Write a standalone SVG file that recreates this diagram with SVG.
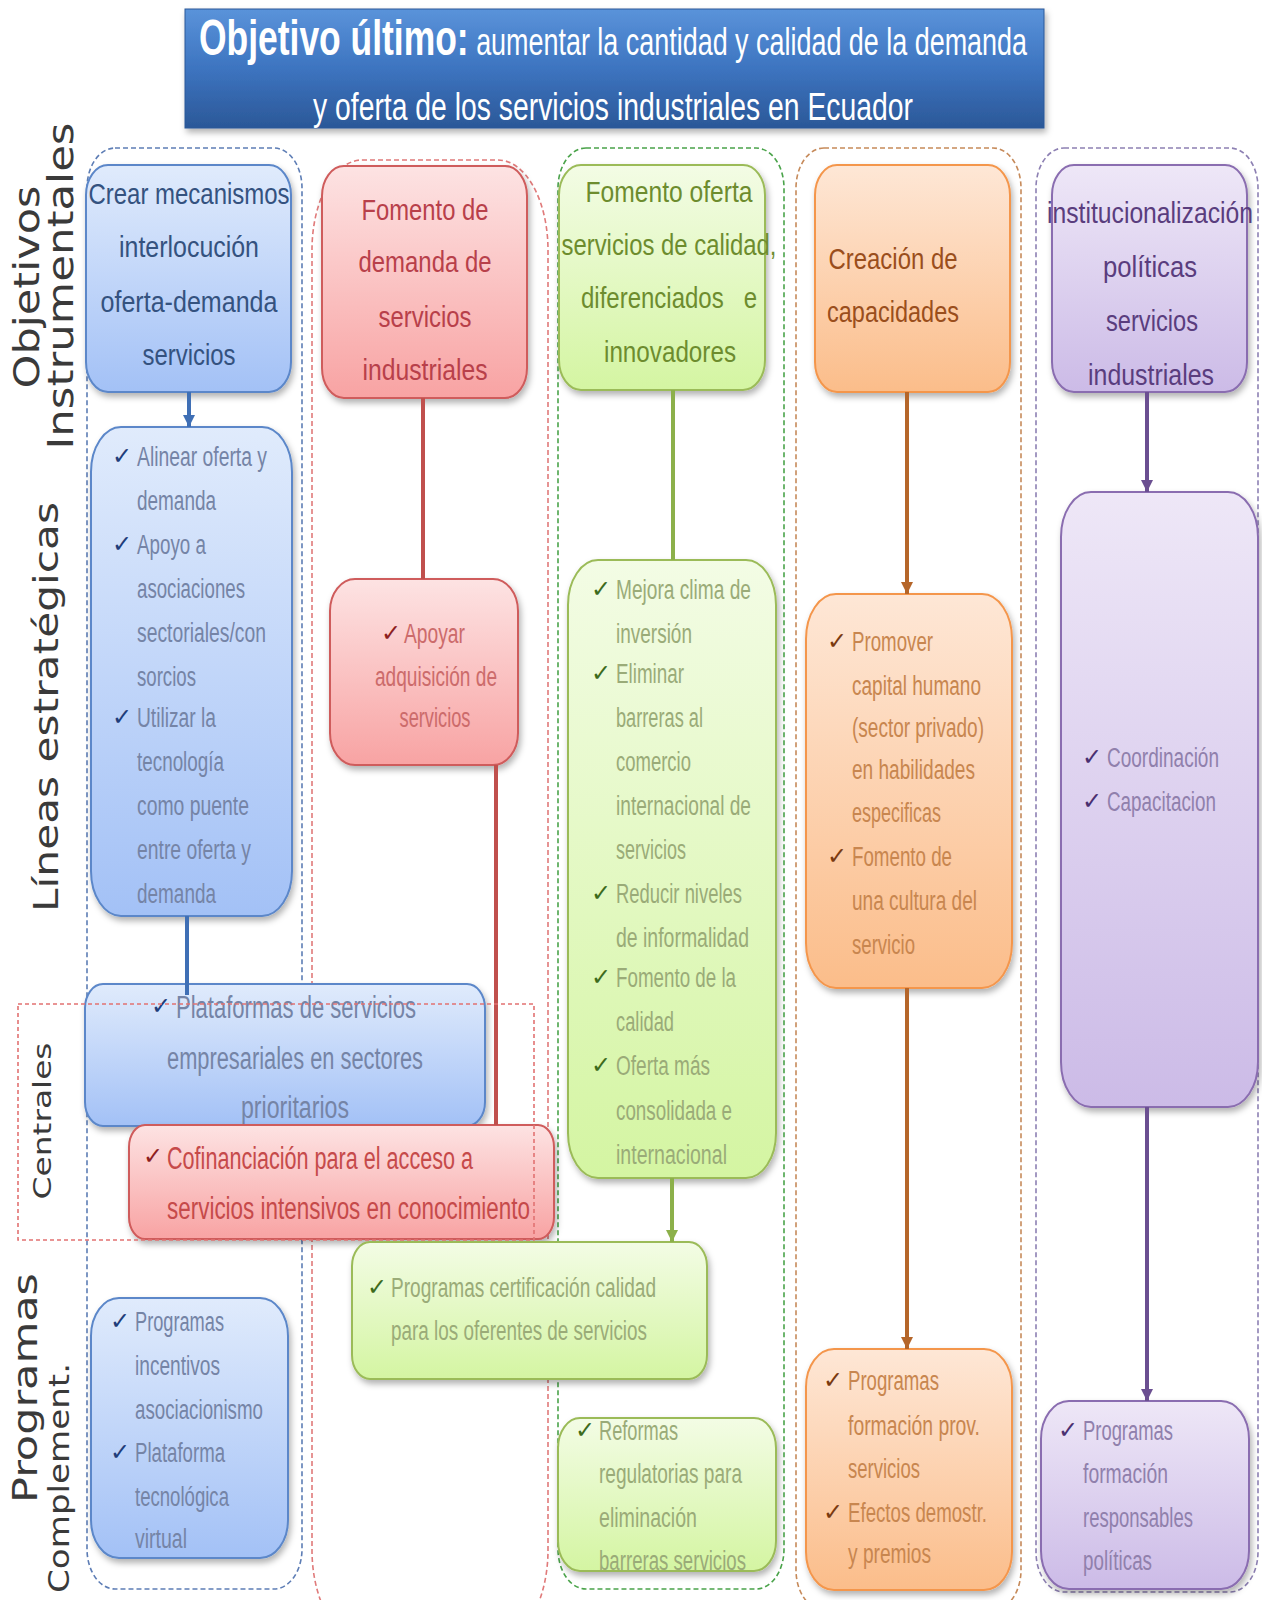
<svg xmlns="http://www.w3.org/2000/svg" width="1262" height="1600" viewBox="0 0 1262 1600">
<defs>
<style>
text{font-family:"Liberation Sans",Arial,sans-serif}
.h{font-size:30px;text-anchor:middle}
.b{font-size:27px}
.bl{font-size:31px}
.c{font-family:"DejaVu Sans",sans-serif;font-size:24px}
.m{text-anchor:middle}
.lab{font-family:"DejaVu Sans",Verdana,sans-serif;fill:#3a3a3a;text-anchor:middle}
.col{fill:none;stroke-width:1.6;stroke-dasharray:5 3}
.bx{stroke-width:2;filter:url(#sh)}
.con{fill:none;stroke-width:4}
.hB{fill:#34527f}.bB{fill:#7584a6}.cB{fill:#1f3d7a}
.hR{fill:#b8404a}.bR{fill:#cc6b6b}.cR{fill:#8e1f1f}
.hG{fill:#6d8c2e}.bG{fill:#9aab78}.cG{fill:#3d6b1c}
.hO{fill:#9a4e1c}.bO{fill:#c8864f}.cO{fill:#7a3a10}
.hP{fill:#5a3d7e}.bP{fill:#9080ac}.cP{fill:#4a2f70}
.fB{fill:url(#gB);stroke:#5b87c9}
.fR{fill:url(#gR);stroke:#cf5b5b}
.fG{fill:url(#gG);stroke:#9bbb59}
.fO{fill:url(#gO);stroke:#f4964c}
.fP{fill:url(#gP);stroke:#8a6db0}
</style>
<linearGradient id="gT" x1="0" y1="0" x2="0" y2="1"><stop offset="0" stop-color="#5a93da"/><stop offset="0.5" stop-color="#3d74c0"/><stop offset="1" stop-color="#2b5898"/></linearGradient>
<linearGradient id="gB" x1="0" y1="0" x2="0" y2="1"><stop offset="0" stop-color="#e0ebfc"/><stop offset="1" stop-color="#a3c1f6"/></linearGradient>
<linearGradient id="gR" x1="0" y1="0" x2="0" y2="1"><stop offset="0" stop-color="#fde3e3"/><stop offset="1" stop-color="#f8a3a3"/></linearGradient>
<linearGradient id="gG" x1="0" y1="0" x2="0" y2="1"><stop offset="0" stop-color="#f3fce5"/><stop offset="1" stop-color="#d4f5a2"/></linearGradient>
<linearGradient id="gO" x1="0" y1="0" x2="0" y2="1"><stop offset="0" stop-color="#fee7d6"/><stop offset="1" stop-color="#fbbd8a"/></linearGradient>
<linearGradient id="gP" x1="0" y1="0" x2="0" y2="1"><stop offset="0" stop-color="#eee7f7"/><stop offset="1" stop-color="#ccbbe7"/></linearGradient>
<filter id="sh" x="-10%" y="-10%" width="125%" height="125%"><feDropShadow dx="2" dy="4" stdDeviation="3" flood-color="#000" flood-opacity="0.3"/></filter>
<marker id="aB" markerUnits="userSpaceOnUse" markerWidth="12" markerHeight="12" viewBox="0 0 10 10" refX="10" refY="5" orient="auto"><path d="M0,0 L10,5 L0,10 z" fill="#3f6fb5"/></marker>
<marker id="aG" markerUnits="userSpaceOnUse" markerWidth="12" markerHeight="12" viewBox="0 0 10 10" refX="10" refY="5" orient="auto"><path d="M0,0 L10,5 L0,10 z" fill="#8cb04a"/></marker>
<marker id="aO" markerUnits="userSpaceOnUse" markerWidth="12" markerHeight="12" viewBox="0 0 10 10" refX="10" refY="5" orient="auto"><path d="M0,0 L10,5 L0,10 z" fill="#b5662a"/></marker>
<marker id="aP" markerUnits="userSpaceOnUse" markerWidth="12" markerHeight="12" viewBox="0 0 10 10" refX="10" refY="5" orient="auto"><path d="M0,0 L10,5 L0,10 z" fill="#6b4f91"/></marker>
</defs>
<rect width="1262" height="1600" fill="#ffffff"/>

<g id="columns">
<rect class="col" x="87" y="148" width="215" height="1441" rx="28" ry="40" stroke="#5d7db5"/>
<rect class="col" x="312" y="160" width="236" height="1480" rx="50" ry="90" stroke="#e07a7a"/>
<rect class="col" x="558" y="148" width="226" height="1441" rx="28" ry="40" stroke="#4aa34a"/>
<rect class="col" x="796" y="148" width="225" height="1462" rx="28" ry="40" stroke="#c68a5a"/>
<rect class="col" x="1036" y="148" width="222" height="1444" rx="28" ry="40" stroke="#8d80b3"/>
</g>

<g id="title">
<rect x="185" y="9" width="859" height="119" fill="url(#gT)" stroke="#2b5898" stroke-width="1" filter="url(#sh)"/>
<text x="199" y="55" font-size="38" fill="#ffffff" textLength="828" lengthAdjust="spacingAndGlyphs"><tspan font-size="50" font-weight="bold">Objetivo último:</tspan> aumentar la cantidad y calidad de la demanda</text>
<text x="313" y="120" font-size="38" fill="#ffffff" textLength="600" lengthAdjust="spacingAndGlyphs">y oferta de los servicios industriales en Ecuador</text>
</g>

<g id="labels">
<text class="lab" font-size="36" transform="translate(39,287) rotate(-90)" textLength="203" lengthAdjust="spacingAndGlyphs">Objetivos</text>
<text class="lab" font-size="36" transform="translate(73,286) rotate(-90)" textLength="327" lengthAdjust="spacingAndGlyphs">Instrumentales</text>
<text class="lab" font-size="33" transform="translate(58,707) rotate(-90)" textLength="410" lengthAdjust="spacingAndGlyphs">Líneas estratégicas</text>
<text class="lab" font-size="25" transform="translate(51,1121) rotate(-90)" textLength="157" lengthAdjust="spacingAndGlyphs">Centrales</text>
<text class="lab" font-size="33" transform="translate(37,1388) rotate(-90)" textLength="230" lengthAdjust="spacingAndGlyphs">Programas</text>
<text class="lab" font-size="28" transform="translate(69,1478) rotate(-90)" textLength="230" lengthAdjust="spacingAndGlyphs">Complement.</text>
</g>

<g id="h-blue">
<rect class="bx fB" x="86" y="165" width="205" height="227" rx="22" ry="30"/>
<text class="h hB" x="189" y="204" textLength="201" lengthAdjust="spacingAndGlyphs">Crear mecanismos</text>
<text class="h hB" x="189" y="257" textLength="140" lengthAdjust="spacingAndGlyphs">interlocución</text>
<text class="h hB" x="189" y="312" textLength="177" lengthAdjust="spacingAndGlyphs">oferta-demanda</text>
<text class="h hB" x="189" y="365" textLength="93" lengthAdjust="spacingAndGlyphs">servicios</text>
</g>
<g id="h-red">
<rect class="bx fR" x="322" y="166" width="205" height="232" rx="22" ry="30"/>
<text class="h hR" x="425" y="220" textLength="127" lengthAdjust="spacingAndGlyphs">Fomento de</text>
<text class="h hR" x="425" y="272" textLength="133" lengthAdjust="spacingAndGlyphs">demanda de</text>
<text class="h hR" x="425" y="327" textLength="93" lengthAdjust="spacingAndGlyphs">servicios</text>
<text class="h hR" x="425" y="380" textLength="125" lengthAdjust="spacingAndGlyphs">industriales</text>
</g>
<g id="h-green">
<rect class="bx fG" x="559" y="165" width="206" height="225" rx="22" ry="30"/>
<text class="h hG" x="669" y="202" textLength="167" lengthAdjust="spacingAndGlyphs">Fomento oferta</text>
<text class="h hG" x="669" y="255" textLength="215" lengthAdjust="spacingAndGlyphs">servicios de calidad,</text>
<text class="h hG" x="669" y="308" textLength="176" lengthAdjust="spacingAndGlyphs" xml:space="preserve">diferenciados   e</text>
<text class="h hG" x="670" y="362" textLength="132" lengthAdjust="spacingAndGlyphs">innovadores</text>
</g>
<g id="h-orange">
<rect class="bx fO" x="815" y="165" width="195" height="227" rx="22" ry="30"/>
<text class="h hO" x="893" y="269" textLength="129" lengthAdjust="spacingAndGlyphs">Creación de</text>
<text class="h hO" x="893" y="322" textLength="132" lengthAdjust="spacingAndGlyphs">capacidades</text>
</g>
<g id="h-purple">
<rect class="bx fP" x="1052" y="165" width="195" height="227" rx="22" ry="30"/>
<text class="h hP" x="1150" y="223" textLength="206" lengthAdjust="spacingAndGlyphs">institucionalización</text>
<text class="h hP" x="1150" y="277" textLength="94" lengthAdjust="spacingAndGlyphs">políticas</text>
<text class="h hP" x="1152" y="331" textLength="92" lengthAdjust="spacingAndGlyphs">servicios</text>
<text class="h hP" x="1151" y="385" textLength="126" lengthAdjust="spacingAndGlyphs">industriales</text>
</g>

<g id="l-blue">
<rect class="bx fB" x="91" y="427" width="201" height="489" rx="30" ry="45"/>
<text class="c cB" x="112" y="464">✓</text>
<text class="b bB" x="137" y="466" textLength="130" lengthAdjust="spacingAndGlyphs">Alinear oferta y</text>
<text class="b bB" x="137" y="510" textLength="79" lengthAdjust="spacingAndGlyphs">demanda</text>
<text class="c cB" x="112" y="552">✓</text>
<text class="b bB" x="137" y="554" textLength="69" lengthAdjust="spacingAndGlyphs">Apoyo a</text>
<text class="b bB" x="137" y="598" textLength="108" lengthAdjust="spacingAndGlyphs">asociaciones</text>
<text class="b bB" x="137" y="642" textLength="129" lengthAdjust="spacingAndGlyphs">sectoriales/con</text>
<text class="b bB" x="137" y="686" textLength="59" lengthAdjust="spacingAndGlyphs">sorcios</text>
<text class="c cB" x="112" y="725">✓</text>
<text class="b bB" x="137" y="727" textLength="79" lengthAdjust="spacingAndGlyphs">Utilizar la</text>
<text class="b bB" x="137" y="771" textLength="87" lengthAdjust="spacingAndGlyphs">tecnología</text>
<text class="b bB" x="137" y="815" textLength="112" lengthAdjust="spacingAndGlyphs">como puente</text>
<text class="b bB" x="137" y="859" textLength="114" lengthAdjust="spacingAndGlyphs">entre oferta y</text>
<text class="b bB" x="137" y="903" textLength="79" lengthAdjust="spacingAndGlyphs">demanda</text>
</g>
<g id="l-red">
<rect class="bx fR" x="330" y="579" width="188" height="186" rx="25" ry="32"/>
<text class="c cR" x="381" y="641">✓</text>
<text class="b bR" x="404" y="643" textLength="61" lengthAdjust="spacingAndGlyphs">Apoyar</text>
<text class="b bR m" x="436" y="686" textLength="122" lengthAdjust="spacingAndGlyphs">adquisición de</text>
<text class="b bR m" x="435" y="727" textLength="71" lengthAdjust="spacingAndGlyphs">servicios</text>
</g>
<g id="l-green">
<rect class="bx fG" x="568" y="560" width="208" height="618" rx="30" ry="45"/>
<text class="c cG" x="591" y="597">✓</text>
<text class="b bG" x="616" y="599" textLength="135" lengthAdjust="spacingAndGlyphs">Mejora clima de</text>
<text class="b bG" x="616" y="643" textLength="76" lengthAdjust="spacingAndGlyphs">inversión</text>
<text class="c cG" x="591" y="681">✓</text>
<text class="b bG" x="616" y="683" textLength="68" lengthAdjust="spacingAndGlyphs">Eliminar</text>
<text class="b bG" x="616" y="727" textLength="87" lengthAdjust="spacingAndGlyphs">barreras al</text>
<text class="b bG" x="616" y="771" textLength="75" lengthAdjust="spacingAndGlyphs">comercio</text>
<text class="b bG" x="616" y="815" textLength="135" lengthAdjust="spacingAndGlyphs">internacional de</text>
<text class="b bG" x="616" y="859" textLength="70" lengthAdjust="spacingAndGlyphs">servicios</text>
<text class="c cG" x="591" y="901">✓</text>
<text class="b bG" x="616" y="903" textLength="126" lengthAdjust="spacingAndGlyphs">Reducir niveles</text>
<text class="b bG" x="616" y="947" textLength="133" lengthAdjust="spacingAndGlyphs">de informalidad</text>
<text class="c cG" x="591" y="985">✓</text>
<text class="b bG" x="616" y="987" textLength="120" lengthAdjust="spacingAndGlyphs">Fomento de la</text>
<text class="b bG" x="616" y="1031" textLength="58" lengthAdjust="spacingAndGlyphs">calidad</text>
<text class="c cG" x="591" y="1073">✓</text>
<text class="b bG" x="616" y="1075" textLength="94" lengthAdjust="spacingAndGlyphs">Oferta más</text>
<text class="b bG" x="616" y="1120" textLength="116" lengthAdjust="spacingAndGlyphs">consolidada e</text>
<text class="b bG" x="616" y="1164" textLength="111" lengthAdjust="spacingAndGlyphs">internacional</text>
</g>
<g id="l-orange">
<rect class="bx fO" x="806" y="594" width="206" height="394" rx="30" ry="45"/>
<text class="c cO" x="827" y="649">✓</text>
<text class="b bO" x="852" y="651" textLength="81" lengthAdjust="spacingAndGlyphs">Promover</text>
<text class="b bO" x="852" y="695" textLength="129" lengthAdjust="spacingAndGlyphs">capital humano</text>
<text class="b bO" x="852" y="737" textLength="132" lengthAdjust="spacingAndGlyphs">(sector privado)</text>
<text class="b bO" x="852" y="779" textLength="123" lengthAdjust="spacingAndGlyphs">en habilidades</text>
<text class="b bO" x="852" y="822" textLength="89" lengthAdjust="spacingAndGlyphs">especificas</text>
<text class="c cO" x="827" y="864">✓</text>
<text class="b bO" x="852" y="866" textLength="100" lengthAdjust="spacingAndGlyphs">Fomento de</text>
<text class="b bO" x="852" y="910" textLength="125" lengthAdjust="spacingAndGlyphs">una cultura del</text>
<text class="b bO" x="852" y="954" textLength="63" lengthAdjust="spacingAndGlyphs">servicio</text>
</g>
<g id="l-purple">
<rect class="bx fP" x="1061" y="492" width="197" height="615" rx="30" ry="45"/>
<text class="c cP" x="1082" y="765">✓</text>
<text class="b bP" x="1107" y="767" textLength="112" lengthAdjust="spacingAndGlyphs">Coordinación</text>
<text class="c cP" x="1082" y="809">✓</text>
<text class="b bP" x="1107" y="811" textLength="109" lengthAdjust="spacingAndGlyphs">Capacitacion</text>
</g>

<g id="c-blue">
<rect class="bx fB" x="85" y="984" width="400" height="142" rx="18" ry="24"/>
<text class="c cB" x="151" y="1014">✓</text>
<text class="bl bB" x="176" y="1018" textLength="240" lengthAdjust="spacingAndGlyphs">Plataformas de servicios</text>
<text class="bl bB m" x="295" y="1069" textLength="256" lengthAdjust="spacingAndGlyphs">empresariales en sectores</text>
<text class="bl bB m" x="295" y="1118" textLength="108" lengthAdjust="spacingAndGlyphs">prioritarios</text>
</g>
<g id="c-red">
<rect class="bx fR" x="129" y="1125" width="425" height="114" rx="16" ry="22"/>
<text class="c cR" x="143" y="1164" font-size="26">✓</text>
<text class="bl" fill="#c64a4a" x="167" y="1169" textLength="306" lengthAdjust="spacingAndGlyphs">Cofinanciación para el acceso a</text>
<text class="bl" fill="#c64a4a" x="167" y="1219" textLength="363" lengthAdjust="spacingAndGlyphs">servicios intensivos en conocimiento</text>
</g>
<g id="c-green">
<rect class="bx fG" x="352" y="1242" width="355" height="137" rx="18" ry="24"/>
<text class="c cG" x="367" y="1295">✓</text>
<text class="b bG" x="391" y="1297" textLength="265" lengthAdjust="spacingAndGlyphs">Programas certificación calidad</text>
<text class="b bG" x="391" y="1340" textLength="256" lengthAdjust="spacingAndGlyphs">para los oferentes de servicios</text>
</g>

<g id="p-blue">
<rect class="bx fB" x="91" y="1298" width="197" height="260" rx="28" ry="38"/>
<text class="c cB" x="110" y="1329">✓</text>
<text class="b bB" x="135" y="1331" textLength="89" lengthAdjust="spacingAndGlyphs">Programas</text>
<text class="b bB" x="135" y="1375" textLength="85" lengthAdjust="spacingAndGlyphs">incentivos</text>
<text class="b bB" x="135" y="1419" textLength="128" lengthAdjust="spacingAndGlyphs">asociacionismo</text>
<text class="c cB" x="110" y="1460">✓</text>
<text class="b bB" x="135" y="1462" textLength="90" lengthAdjust="spacingAndGlyphs">Plataforma</text>
<text class="b bB" x="135" y="1506" textLength="94" lengthAdjust="spacingAndGlyphs">tecnológica</text>
<text class="b bB" x="135" y="1548" textLength="52" lengthAdjust="spacingAndGlyphs">virtual</text>
</g>
<g id="p-green">
<rect class="bx fG" x="558" y="1418" width="218" height="153" rx="22" ry="30"/>
<text class="c cG" x="575" y="1438">✓</text>
<text class="b bG" x="599" y="1440" textLength="79" lengthAdjust="spacingAndGlyphs">Reformas</text>
<text class="b bG" x="599" y="1483" textLength="143" lengthAdjust="spacingAndGlyphs">regulatorias para</text>
<text class="b bG" x="599" y="1527" textLength="98" lengthAdjust="spacingAndGlyphs">eliminación</text>
<text class="b bG" x="599" y="1570" textLength="147" lengthAdjust="spacingAndGlyphs">barreras servicios</text>
</g>
<g id="p-orange">
<rect class="bx fO" x="806" y="1349" width="206" height="241" rx="28" ry="38"/>
<text class="c cO" x="823" y="1388">✓</text>
<text class="b bO" x="848" y="1390" textLength="91" lengthAdjust="spacingAndGlyphs">Programas</text>
<text class="b bO" x="848" y="1435" textLength="132" lengthAdjust="spacingAndGlyphs">formación prov.</text>
<text class="b bO" x="848" y="1478" textLength="72" lengthAdjust="spacingAndGlyphs">servicios</text>
<text class="c cO" x="823" y="1520">✓</text>
<text class="b bO" x="848" y="1522" textLength="139" lengthAdjust="spacingAndGlyphs">Efectos demostr.</text>
<text class="b bO" x="848" y="1563" textLength="83" lengthAdjust="spacingAndGlyphs">y premios</text>
</g>
<g id="p-purple">
<rect class="bx fP" x="1041" y="1401" width="208" height="188" rx="28" ry="38"/>
<text class="c cP" x="1058" y="1438">✓</text>
<text class="b bP" x="1083" y="1440" textLength="90" lengthAdjust="spacingAndGlyphs">Programas</text>
<text class="b bP" x="1083" y="1483" textLength="85" lengthAdjust="spacingAndGlyphs">formación</text>
<text class="b bP" x="1083" y="1527" textLength="110" lengthAdjust="spacingAndGlyphs">responsables</text>
<text class="b bP" x="1083" y="1570" textLength="69" lengthAdjust="spacingAndGlyphs">políticas</text>
</g>

<g id="connectors">
<path class="con" d="M189 392 V427" stroke="#3f6fb5" marker-end="url(#aB)"/>
<path class="con" d="M187 916 V995" stroke="#3f6fb5"/>
<path class="con" d="M423 398 V579" stroke="#c0504d"/>
<path class="con" d="M496 765 V1125" stroke="#c0504d"/>
<path class="con" d="M673 390 V560" stroke="#8cb04a"/>
<path class="con" d="M672 1178 V1242" stroke="#8cb04a" marker-end="url(#aG)"/>
<path class="con" d="M907 392 V594" stroke="#b5662a" marker-end="url(#aO)"/>
<path class="con" d="M907 988 V1349" stroke="#b5662a" marker-end="url(#aO)"/>
<path class="con" d="M1147 392 V492" stroke="#6b4f91" marker-end="url(#aP)"/>
<path class="con" d="M1147 1107 V1401" stroke="#6b4f91" marker-end="url(#aP)"/>
</g>

<g id="centrales-frame">
<rect x="18" y="1004" width="516" height="236" fill="none" stroke="#e27272" stroke-width="1.6" stroke-dasharray="4 3"/>
</g>
</svg>
